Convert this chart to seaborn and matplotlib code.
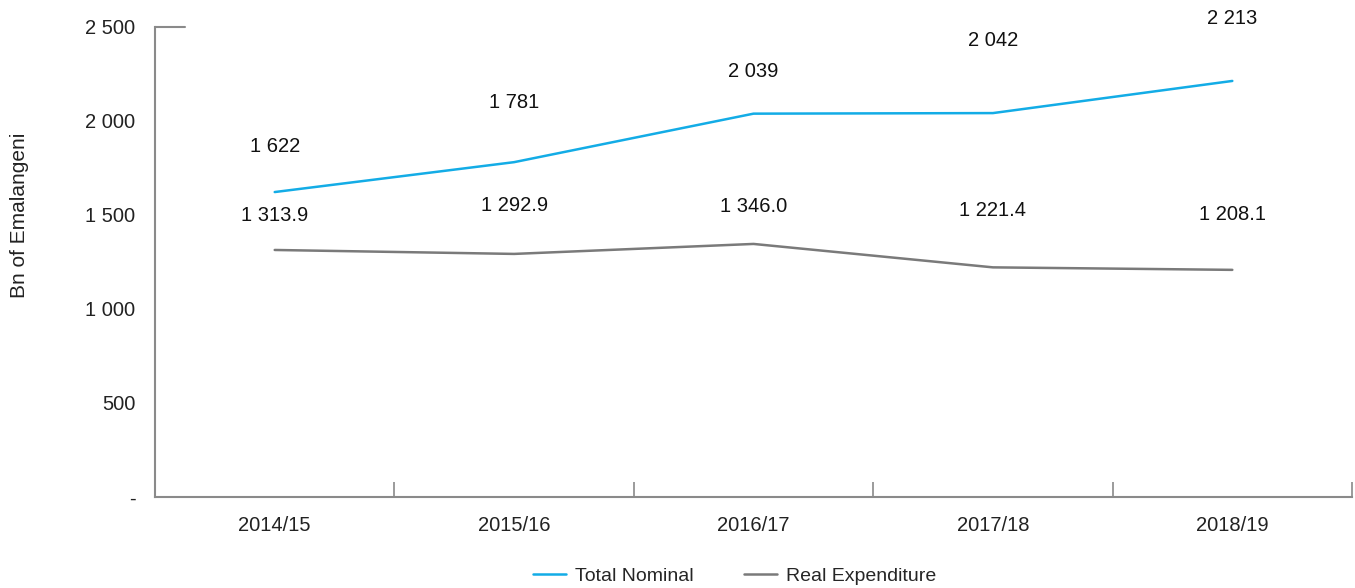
import pandas as pd
import seaborn as sns
import matplotlib.pyplot as plt

years = ['2014/15', '2015/16', '2016/17', '2017/18', '2018/19']
total_nominal = [1622, 1781, 2039, 2042, 2213]
real_expenditure = [1313.9, 1292.9, 1346.0, 1221.4, 1208.1]
nominal_labels = ['1 622', '1 781', '2 039', '2 042', '2 213']
real_labels = ['1 313.9', '1 292.9', '1 346.0', '1 221.4', '1 208.1']
y_ticks = [0, 500, 1000, 1500, 2000, 2500]
y_ticklabels = ['-', '500', '1 000', '1 500', '2 000', '2 500']

# label offsets above the points (points), as placed in the original
nominal_dy = [33, 43, 30, 52, 45]
real_dy = [25, 35, 27, 41, 40]

df = pd.DataFrame({
    'year': years * 2,
    'value': total_nominal + real_expenditure,
    'series': ['Total Nominal'] * 5 + ['Real Expenditure'] * 5,
})

sns.set_style('white')
plt.rcParams['font.family'] = ['Liberation Sans', 'DejaVu Sans']

fig = plt.figure(figsize=(13.55, 5.88), dpi=100)
ax = fig.add_axes([0.1144, 0.1548, 0.8834, 0.7993])

sns.lineplot(data=df, x='year', y='value', hue='series', sort=False,
             palette={'Total Nominal': '#13ACE6', 'Real Expenditure': '#7A7A7A'},
             linewidth=1.8, ax=ax, legend=False)

for i, (v, lab, dy) in enumerate(zip(total_nominal, nominal_labels, nominal_dy)):
    ax.annotate(lab, (i, v), xytext=(0, dy), textcoords='offset points',
                ha='center', va='center', fontsize=14.5, color='#111111')
for i, (v, lab, dy) in enumerate(zip(real_expenditure, real_labels, real_dy)):
    ax.annotate(lab, (i, v), xytext=(0, dy), textcoords='offset points',
                ha='center', va='center', fontsize=14.5, color='#111111')

ax.set_xlim(-0.5, 4.5)
ax.set_ylim(0, 2500)
ax.set_yticks(y_ticks)
ax.set_yticklabels(y_ticklabels, fontsize=14.5, color='#222222')
ax.set_xticks(range(len(years)))
ax.set_xticklabels(years, fontsize=14.5, color='#222222')
ax.set_xticks([i - 0.5 for i in range(len(years) + 1)], minor=True)
ax.tick_params(axis='x', which='major', length=0, pad=14)
ax.tick_params(axis='x', which='minor', bottom=True, direction='in', length=11,
               color='#8A8A8A', width=1.2)
ax.tick_params(axis='y', length=0, pad=14)

for side in ['top', 'right']:
    ax.spines[side].set_visible(False)
for side in ['left', 'bottom']:
    ax.spines[side].set_color('#8A8A8A')
    ax.spines[side].set_linewidth(1.5)

# short marker at the top of the value axis
ax.axhline(2500, xmin=0, xmax=0.025, color='#8A8A8A', linewidth=1.5, clip_on=False)

ax.set_xlabel('')
ax.set_ylabel('Bn of Emalangeni', fontsize=15, color='#222222')
ax.yaxis.set_label_coords(-0.105, 0.6)

handles = [plt.Line2D([], [], color='#13ACE6', linewidth=1.8),
           plt.Line2D([], [], color='#7A7A7A', linewidth=1.8)]
fig.legend(handles, ['Total Nominal', 'Real Expenditure'], loc='center',
           bbox_to_anchor=(0.542, 0.02), ncol=2, frameon=False,
           prop={'size': 14},
           handlelength=1.7, handletextpad=0.45, columnspacing=2.6)

fig.savefig('out.png', dpi=100)
